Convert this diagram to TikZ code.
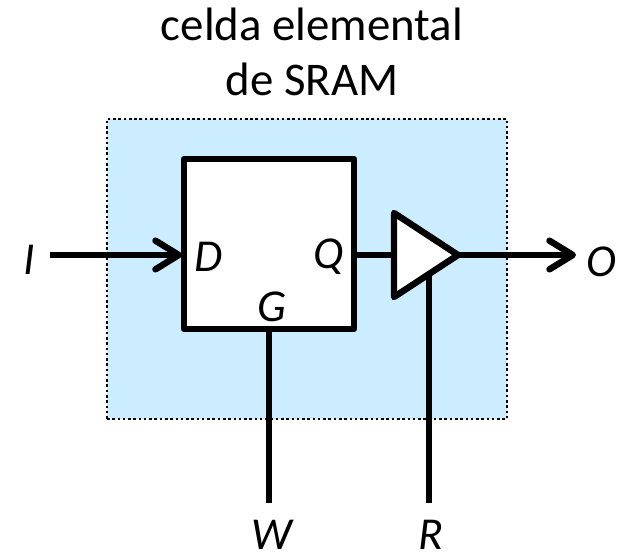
\documentclass[tikz,border=0pt]{standalone}
\usepackage{fontspec}
\setmainfont{Carlito}
\usetikzlibrary{positioning,arrows.meta,calc,shapes.geometric}
\definecolor{CellBand}{RGB}{204,236,255}
\tikzset{
  wire/.style={line width=5.5pt,draw=black},
  thinwire/.style={line width=4.8pt,draw=black},
  flow/.style={wire,-{Straight Barb[length=7mm,width=8.6mm,line width=5.5pt,round]}},
  pinlabel/.style={font=\fontsize{39pt}{42pt}\selectfont\itshape,inner sep=0pt},
  titlelabel/.style={font=\fontsize{40pt}{47pt}\selectfont,align=center,inner sep=0pt},
  latchbox/.style={draw=black,fill=white,line width=5.5pt,line join=round,minimum width=5.1cm,minimum height=5.1cm,inner sep=0pt},
  cellband/.style={draw=black,fill=CellBand,dash pattern=on 2.2pt off 2.3pt,line width=2.2pt,minimum width=12cm,minimum height=9cm,inner sep=0pt}
}
\begin{document}
\begin{tikzpicture}[x=0.03cm,y=-0.03cm]
  \useasboundingbox (0,0) rectangle (626,554);
  \node[cellband] (cell) at (307,269) {};
  \node[titlelabel] (title) at (312,52) {celda elemental\\de SRAM};
  \node[latchbox] (latch) at (269,244) {};
  \node[pinlabel] (D) at (209,257) {D};
  \node[pinlabel] (Q) at (329,257) {Q};
  \node[pinlabel] (G) at (272,307) {G};
  \node[pinlabel] (I) at (29,260) {I};
  \node[pinlabel] (O) at (601,262) {O};
  \node[pinlabel] (W) at (272,535) {W};
  \node[pinlabel] (R) at (431,535) {R};
  \coordinate (ina) at (50,255);
  \coordinate (inb) at (182,255);
  \coordinate (qa) at (354,255);
  \coordinate (qb) at (394,255);
  \coordinate (oa) at (458,255);
  \coordinate (ob) at (576,255);
  \coordinate (wa) at (269,329);
  \coordinate (wb) at (269,503);
  \coordinate (ra) at (429,276);
  \coordinate (rb) at (429,503);
  \coordinate (ta) at (394,213);
  \coordinate (tb) at (394,297);
  \draw[wire,fill=white,line join=round] (ta) -- (oa) -- (tb) -- cycle;
  \draw[flow] (ina) -- (inb);
  \draw[thinwire] (qa) -- (qb);
  \draw[flow] (oa) -- (ob);
  \draw[wire] (wa) -- (wb);
  \draw[wire] (ra) -- (rb);
\end{tikzpicture}
\end{document}
